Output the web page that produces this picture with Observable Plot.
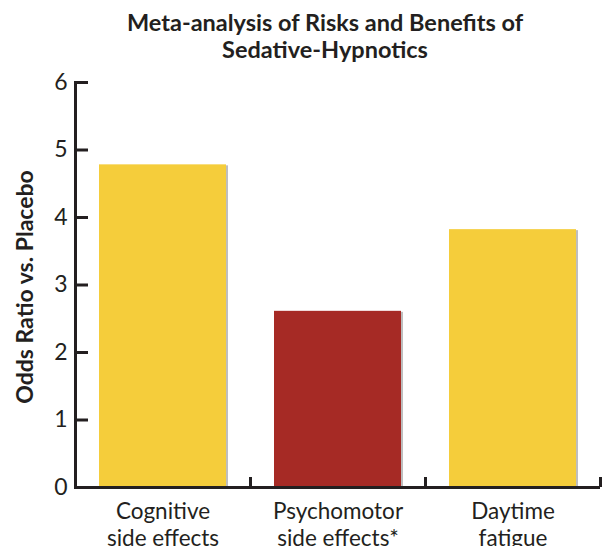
<!DOCTYPE html>
<html>
<head>
<meta charset="utf-8">
<script src="https://cdn.jsdelivr.net/npm/d3@7"></script>
<script src="https://cdn.jsdelivr.net/npm/@observablehq/plot@0.6"></script>
<style>
  html, body { margin: 0; padding: 0; background: #fff; }
  #chart { width: 603px; font-family: Lato, "Open Sans", sans-serif; color: #231f20; }
  #title {
    height: 65px; box-sizing: border-box; padding-top: 9px; padding-left: 47px;
    text-align: center; font-weight: bold; font-size: 23.5px; line-height: 27px;
  }
  #chart svg { display: block; }
</style>
</head>
<body>
<div id="chart">
  <div id="title">Meta-analysis of Risks and Benefits of<br>Sedative-Hypnotics</div>
</div>
<script>
// Odds ratios of each outcome versus placebo
const categories = ["Cognitive\nside effects", "Psychomotor\nside effects*", "Daytime\nfatigue"];
const oddsRatios = [4.78, 2.61, 3.82];
const barColors = ["#f5cd3b", "#a62a25", "#f5cd3b"];
const yTicks = [0, 1, 2, 3, 4, 5, 6];
const yLabel = "Odds Ratio vs. Placebo";

const data = categories.map((c, i) => ({category: c, value: oddsRatios[i], color: barColors[i]}));

const W = 603, H = 481;
const mL = 75, mR = 3, mT = 17, mB = 59;
const step = (W - mL - mR) / categories.length;
const ink = "#231f20";

const chart = Plot.plot({
  width: W,
  height: H,
  marginLeft: mL,
  marginRight: mR,
  marginTop: mT,
  marginBottom: mB,
  style: {fontFamily: "Lato, 'Open Sans', sans-serif", color: ink, background: "#fff"},
  x: {domain: categories, paddingInner: 0.274, paddingOuter: 0.137, axis: null},
  y: {domain: [0, 6], axis: null},
  marks: [
    // soft shadow on the right edge of each bar
    Plot.barY(data, {x: "category", y: "value", fill: "#6f6f6f", fillOpacity: 0.45, dx: 2, dy: 1}),
    Plot.barY(data, {x: "category", y: "value", fill: "color"}),
    // y tick labels
    Plot.axisY({ticks: yTicks, tickFormat: d => String(d), tickSize: 0, tickPadding: 8, fontSize: 23, label: null, color: ink}),
    // inward y ticks
    Plot.ruleY(yTicks, {stroke: ink, strokeWidth: 3, insetRight: W - mL - mR - 13}),
    // axis lines
    Plot.frame({anchor: "left", stroke: ink, strokeWidth: 3}),
    Plot.ruleY([0], {stroke: ink, strokeWidth: 3}),
    // upward ticks between categories
    Plot.ruleX(categories, {x: d => d, y1: 0, y2: 0, insetTop: -10, dx: step / 2, stroke: ink, strokeWidth: 3}),
    // category labels
    Plot.axisX({tickSize: 0, tickPadding: 12, fontSize: 22.5, lineHeight: 1.2, label: null, color: ink}),
    // y axis title
    Plot.text([yLabel], {frameAnchor: "left", textAnchor: "middle", rotate: -90, dx: -50, dy: 2, fontSize: 23, fontWeight: "bold", fill: ink})
  ]
});

document.getElementById("chart").appendChild(chart);
</script>
</body>
</html>
